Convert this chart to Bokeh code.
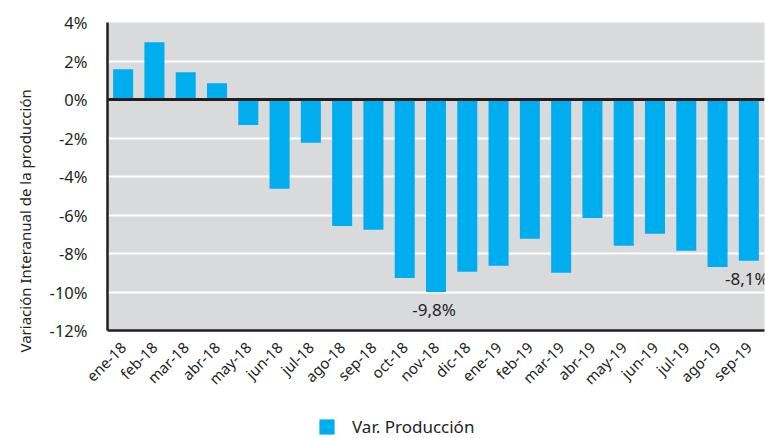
import math
from bokeh.plotting import figure
from bokeh.layouts import column
from bokeh.models import (ColumnDataSource, FactorRange, Range1d, Span, Legend, LegendItem,
                          PrintfTickFormatter, FixedTicker, Title)
from bokeh.core.properties import value
from bokeh.embed import file_html
from bokeh.resources import INLINE

months = ["ene-18", "feb-18", "mar-18", "abr-18", "may-18", "jun-18", "jul-18", "ago-18",
          "sep-18", "oct-18", "nov-18", "dic-18", "ene-19", "feb-19", "mar-19", "abr-19",
          "may-19", "jun-19", "jul-19", "ago-19", "sep-19"]
var_produccion = [1.57, 2.98, 1.42, 0.85, -1.32, -4.64, -2.25, -6.57, -6.77, -9.27, -10.0,
                  -8.95, -8.64, -7.24, -9.0, -6.15, -7.6, -6.98, -7.86, -8.7, -8.38]
y_ticks = [4, 2, 0, -2, -4, -6, -8, -10, -12]
ann_months = ["nov-18", "sep-19"]
ann_values = [-10.0, -8.38]
ann_texts = ["-9,8%", "-8,1%"]
y_title = "Variación Interanual de la producción"
series_name = "Var. Producción"

FONT = "Noto Sans"
DARK = "#231f20"
BLUE = "#00aeef"

p = figure(width=765, height=410, x_range=FactorRange(factors=months, range_padding=0),
           y_range=Range1d(-12, 4), output_backend="svg", toolbar_location=None,
           min_border_left=107, min_border_right=1, min_border_top=22, min_border_bottom=80)
p.outline_line_color = None
p.background_fill_color = "#d9dadc"
p.border_fill_color = "white"

src = ColumnDataSource(dict(x=months, top=var_produccion))
bars = p.vbar(x="x", top="top", bottom=0, width=0.64, source=src, fill_color=BLUE, line_color=None)

p.add_layout(Span(location=0, dimension="width", line_color=DARK, line_width=3))

asrc = ColumnDataSource(dict(x=ann_months, y=ann_values, t=ann_texts))
p.text(x="x", y="y", text="t", source=asrc, text_align="center", text_baseline="top",
       y_offset=6, x_offset=-2, text_font=value(FONT), text_font_size="17px", text_color=DARK)

p.xgrid.grid_line_color = None
p.ygrid.grid_line_color = "white"
p.ygrid.grid_line_width = 2
p.ygrid.ticker = FixedTicker(ticks=y_ticks)

p.yaxis.ticker = FixedTicker(ticks=y_ticks)
p.yaxis.formatter = PrintfTickFormatter(format="%d%%")
p.yaxis.major_tick_line_color = None
p.yaxis.minor_tick_line_color = None
p.yaxis.axis_line_color = DARK
p.yaxis.axis_line_width = 2.5
p.yaxis.major_label_text_font = FONT
p.yaxis.major_label_text_font_size = "16.5px"
p.yaxis.major_label_text_color = DARK
p.yaxis.major_label_standoff = 14

p.xaxis.major_tick_line_color = None
p.xaxis.axis_line_color = DARK
p.xaxis.axis_line_width = 2.5
p.xaxis.major_label_orientation = math.pi / 4
p.xaxis.major_label_text_font = FONT
p.xaxis.major_label_text_font_size = "15px"
p.xaxis.major_label_text_color = DARK
p.xaxis.major_label_standoff = 8

p.add_layout(Title(text=y_title, align="left", offset=-22, text_font=FONT,
                   text_font_size="15px", text_font_style="normal", text_color=DARK,
                   standoff=24), "left")

# legend strip below the chart
lf = figure(width=765, height=28, x_range=Range1d(0, 1), y_range=Range1d(0, 1),
            output_backend="svg", toolbar_location=None,
            min_border_left=0, min_border_right=0, min_border_top=0, min_border_bottom=0)
lf.axis.visible = False
lf.grid.visible = False
lf.outline_line_color = None
lf.background_fill_color = "white"
swatch = lf.vbar(x=[series_name], top=[-1], bottom=-2, width=0.5, fill_color=BLUE, line_color=None)
swatch.glyph.x = -5
legend = Legend(items=[LegendItem(label=series_name, renderers=[swatch])],
                location=(210, 0), orientation="horizontal",
                background_fill_alpha=0, border_line_color=None,
                label_text_font=FONT, label_text_font_size="17px", label_text_color=DARK,
                glyph_width=19, glyph_height=19, padding=0, margin=0, label_standoff=16)
lf.add_layout(legend, "center")

layout = column(p, lf, spacing=0)
open("out.html", "w").write(file_html(layout, INLINE))
